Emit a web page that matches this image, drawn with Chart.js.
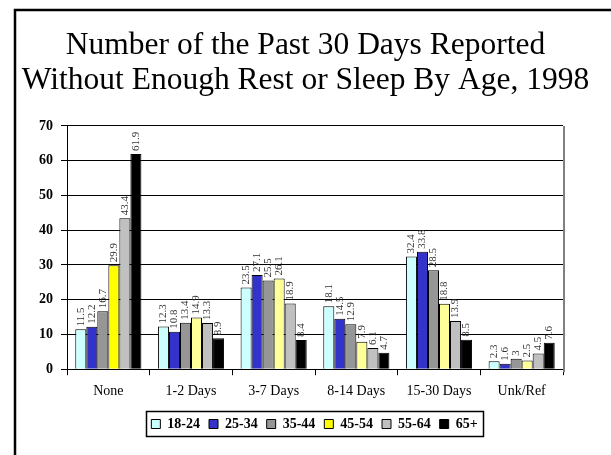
<!DOCTYPE html>
<html>
<head>
<meta charset="utf-8">
<script src="https://cdn.jsdelivr.net/npm/chart.js@4/dist/chart.umd.min.js"></script>
<style>
  html, body { margin: 0; padding: 0; background: #fff; }
  #wrap { width: 611px; height: 455px; position: relative; }
</style>
</head>
<body>
<div id="wrap"><canvas id="c" width="611" height="455"></canvas></div>
<script>
const categories = ["None", "1-2 Days", "3-7 Days", "8-14 Days", "15-30 Days", "Unk/Ref"];
const seriesNames = ["18-24", "25-34", "35-44", "45-54", "55-64", "65+"];
const age18_24 = [11.5, 12.3, 23.5, 18.1, 32.4, 2.3];
const age25_34 = [12.2, 10.8, 27.1, 14.5, 33.8, 1.6];
const age35_44 = [16.7, 13.4, 25.5, 12.9, 28.5, 3];
const age45_54 = [29.9, 14.9, 26.1, 7.9, 18.8, 2.5];
const age55_64 = [43.4, 13.3, 18.9, 6.1, 13.9, 4.5];
const age65plus = [61.9, 8.9, 8.4, 4.7, 8.5, 7.6];
const yTicks = [0, 10, 20, 30, 40, 50, 60, 70];
const titleLines = ["Number of the Past 30 Days Reported", "Without Enough Rest or Sleep By Age, 1998"];

const seriesValues = [age18_24, age25_34, age35_44, age45_54, age55_64, age65plus];
const colors = [
  '#CCFFFF',
  '#3333CC',
  '#969696',
  (ctx) => (ctx.dataIndex === 0 ? '#FFFF00' : '#FFFF99'),
  '#C0C0C0',
  '#000000'
];

const serif = "'Liberation Serif', 'Times New Roman', serif";

const framePlugin = {
  id: 'frame',
  afterLayout(chart) {
    const lg = chart.legend;
    if (lg) { lg.left += 9; lg.right += 9; }
  },
  beforeDraw(chart) {
    const ctx = chart.ctx;
    ctx.save();
    ctx.fillStyle = '#fff';
    ctx.fillRect(0, 0, chart.width, chart.height);
    ctx.strokeStyle = '#000';
    ctx.lineWidth = 2.5;
    ctx.beginPath();
    ctx.moveTo(15, chart.height);
    ctx.lineTo(15, 10);
    ctx.lineTo(chart.width, 10);
    ctx.stroke();
    ctx.restore();
  },
  afterDatasetsDraw(chart) {
    const ctx = chart.ctx;
    const ca = chart.chartArea;
    ctx.save();
    ctx.strokeStyle = '#808080';
    ctx.lineWidth = 2;
    ctx.beginPath();
    ctx.moveTo(ca.right + 1, ca.top);
    ctx.lineTo(ca.right + 1, ca.bottom + 3);
    ctx.stroke();
    ctx.font = '11px ' + serif;
    ctx.fillStyle = '#333';
    ctx.textAlign = 'left';
    ctx.textBaseline = 'middle';
    chart.data.datasets.forEach((ds, di) => {
      const meta = chart.getDatasetMeta(di);
      meta.data.forEach((el, i) => {
        ctx.save();
        ctx.translate(el.x, el.y - 3);
        ctx.rotate(-Math.PI / 2);
        ctx.fillText(String(ds.data[i]), 0, 0);
        ctx.restore();
      });
    });
    ctx.restore();
  },
  afterDraw(chart) {
    const lg = chart.legend;
    if (!lg || !lg.legendHitBoxes || !lg.legendHitBoxes.length) return;
    const hb = lg.legendHitBoxes;
    let l = Infinity, r = -Infinity, t = Infinity, b = -Infinity;
    hb.forEach(h => {
      l = Math.min(l, h.left); r = Math.max(r, h.left + h.width);
      t = Math.min(t, h.top); b = Math.max(b, h.top + h.height);
    });
    const ctx = chart.ctx;
    ctx.save();
    ctx.strokeStyle = '#000';
    ctx.lineWidth = 1.5;
    ctx.strokeRect(Math.round(l - 5) + 0.5, Math.round(t - 6) + 0.5, Math.round(r - l + 11), Math.round(b - t + 11));
    ctx.restore();
  }
};

new Chart(document.getElementById('c'), {
  type: 'bar',
  data: {
    labels: categories,
    datasets: seriesNames.map((name, i) => ({
      label: name,
      data: seriesValues[i],
      backgroundColor: colors[i],
      borderColor: '#000',
      borderWidth: 1,
      categoryPercentage: 0.8,
      barPercentage: 1.0
    }))
  },
  options: {
    responsive: false,
    animation: false,
    devicePixelRatio: 1,
    layout: { padding: { left: 0, right: 0, top: 10, bottom: 14 } },
    plugins: {
      tooltip: { enabled: false },
      title: {
        display: true,
        text: titleLines,
        color: '#000',
        font: { family: serif, size: 31.5, weight: 'normal', lineHeight: 1.11 },
        padding: { top: 18.25, bottom: 27.75 }
      },
      legend: {
        position: 'bottom',
        labels: {
          color: '#000',
          font: { family: serif, size: 14, weight: 'bold' },
          boxWidth: 9,
          boxHeight: 9,
          padding: 9
        }
      }
    },
    scales: {
      x: {
        grid: { display: true, offset: true, drawOnChartArea: false, drawTicks: true, tickLength: 6, color: '#000', lineWidth: 1 },
        border: { display: true, color: '#000', width: 1 },
        ticks: { color: '#000', font: { family: serif, size: 14 }, padding: 8 }
      },
      y: {
        min: 0,
        max: 70,
        afterFit(s) { s.width = 67; },
        afterBuildTicks(s) { s.ticks = yTicks.map(v => ({ value: v })); },
        grid: { color: '#000', lineWidth: 1, tickLength: 6 },
        border: { display: true, color: '#000', width: 1 },
        ticks: { color: '#000', font: { family: serif, size: 14, weight: 'bold' }, padding: 8 }
      },
      y2: {
        position: 'right',
        display: true,
        afterFit(s) { s.width = 48; },
        grid: { display: false, drawOnChartArea: false },
        border: { display: false },
        ticks: { display: false }
      }
    }
  },
  plugins: [framePlugin]
});
</script>
</body>
</html>
